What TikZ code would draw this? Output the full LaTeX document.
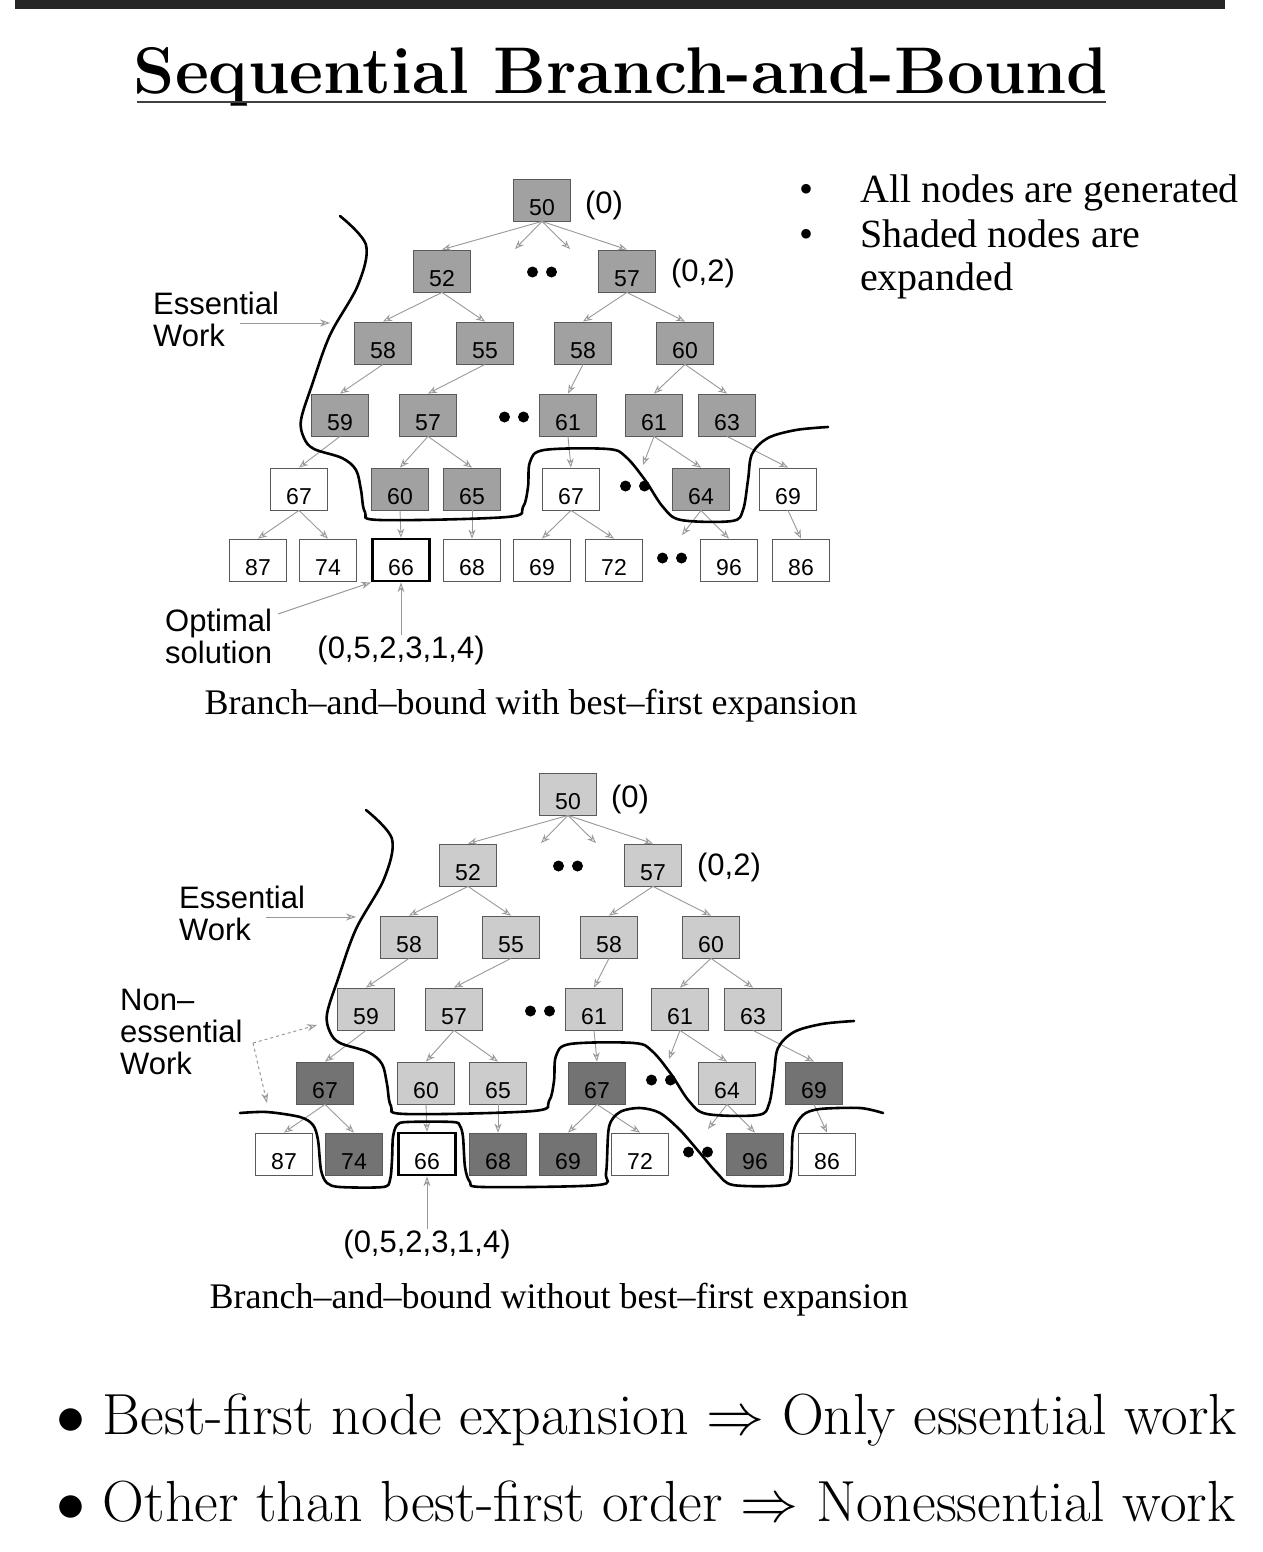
\RequirePackage{fix-cm}
\documentclass[tikz,border=0pt]{standalone}
\usepackage{fontspec}
\newfontfamily\treefont{Liberation Sans}
\newfontfamily\serfont{Liberation Serif}
\usepackage{tikz}
\usetikzlibrary{arrows.meta, positioning}

\definecolor{boxline}{gray}{0.35}
\definecolor{edgegray}{gray}{0.6}
\definecolor{midshade}{gray}{0.63}
\definecolor{lightshade}{gray}{0.8}
\definecolor{darkshade}{gray}{0.45}

\newcommand{\twodots}[1]{\fill[black] (#1) ++(-9.5,0) circle (5.5pt) ++(19,0) circle (5.5pt);}

\newcommand{\bbtree}{%
  % levels 0 to 2
  \node[expd] (r) at (542,200) {50};
  \node[lbl, anchor=west] (rlab) at ([xshift=14pt,yshift=-5pt]r.east) {(0)};
  \node[expd] (a) at (442,271) {52};
  \node[expd] (b) at (627,271) {57};
  \node[lbl, anchor=west] (blab) at ([xshift=15pt,yshift=-2pt]b.east) {(0,2)};
  \twodots{542,272}
  \node[expd] (aa) at (383,343) {58};
  \node[expd] (ab) at (485,343) {55};
  \node[expd] (ba) at (583,343) {58};
  \node[expd] (bb) at (685,343) {60};
  % level 3
  \node[expd] (aaa) at (340,415) {59};
  \node[expd] (aba) at (428,415) {57};
  \node[expd] (baa) at (568,415) {61};
  \node[expd] (bba) at (654,415) {61};
  \node[expd] (bbb) at (727,415) {63};
  \twodots{514,417}
  % level 4
  \node[xtra] (aaaa) at (299,489) {67};
  \node[expd] (abaa) at (400,489) {60};
  \node[expd] (abab) at (472,489) {65};
  \node[xtra] (baaa) at (571,489) {67};
  \node[expd] (bbab) at (701,489) {64};
  \node[xtra] (bbba) at (788,489) {69};
  \twodots{635,486}
  % level 5
  \node[gen] (l1) at (258,560) {87};
  \node[xtra] (l2) at (328,560) {74};
  \node[opt] (opt) at (401,560) {66};
  \node[xtra] (l4) at (472,560) {68};
  \node[xtra] (l5) at (542,560) {69};
  \node[gen] (l6) at (614,560) {72};
  \node[xtra] (l7) at (729,560) {96};
  \node[gen] (l8) at (801,560) {86};
  \twodots{672,558}
  % edges
  \foreach \p/\c in {r/a, r/b, a/aa, a/ab, b/ba, b/bb, aa/aaa, ab/aba, ba/baa, bb/bba, bb/bbb,
      aaa/aaaa, aba/abaa, aba/abab, baa/baaa, bba/bbab, bbb/bbba,
      aaaa/l1, aaaa/l2, abaa/opt, abab/l4, baaa/l5, baaa/l6, bbab/l7, bbba/l8}
    \draw[edge] (\p.south) -- (\c.north);
  \coordinate (s1) at (515,249);
  \coordinate (s2) at (570,249);
  \coordinate (s3) at (643,465);
  \coordinate (s4) at (682,535);
  \foreach \p/\c in {r/s1, r/s2, bba/s3, bbab/s4}
    \draw[edge] (\p.south) -- (\c);
  % essential work boundary
  \draw[bound] plot[smooth, tension=0.55] coordinates {(340,216) (366,245) (358,285) (330,335)
      (312,385) (301,420) (304,438) (314,449) (342,458) (356,470) (361,490) (365,512) (380,520)
      (507,517) (523,507) (528,487) (530,462) (544,450) (608,449) (626,457) (645,480) (663,507)
      (681,520) (732,521) (743,510) (748,480) (752,454) (768,438) (796,430) (828,427)};
  % labels
  \node[lbl, anchor=west] (ew) at (153,319) {Essential\\Work};
  \coordinate (ewfrom) at (240,323);
  \coordinate (ewto) at (330,323);
  \draw[pointer] (ewfrom) -- (ewto);
  \node[lbl] (sol) at (401,650) {(0,5,2,3,1,4)};
  \draw[pointer] (sol.north) -- (opt.south);
}

\begin{document}
\begin{tikzpicture}[x=1pt, y=-1pt,
    box/.style={draw=boxline, line width=0.8pt, minimum width=57pt, minimum height=42pt,
      inner sep=2pt, text height=30pt, text depth=0pt, font=\treefont\fontsize{23}{23}\selectfont},
    gen/.style={box, fill=white},
    opt/.style={box, fill=white, draw=black, line width=2.6pt},
    edge/.style={draw=edgegray, line width=0.9pt, -{Stealth[open, length=9pt, width=7pt]}},
    bound/.style={draw=black, line width=2.6pt, line cap=round},
    lbl/.style={font=\treefont\fontsize{31}{32}\selectfont, align=left, inner sep=0pt},
    pointer/.style={draw=edgegray, line width=1pt, -{Stealth[open, length=10pt, width=7pt]}},
    figcap/.style={font=\serfont\fontsize{36}{36}\selectfont, inner sep=0pt},
    note/.style={font=\serfont\fontsize{40}{43}\selectfont, inner sep=0pt},
  ]
  \useasboundingbox (0,0) rectangle (1262,1552);
  \fill[white] (0,0) rectangle (1262,1552);

  % heading
  \fill[black!85] (15,0) rectangle (1225,9);
  \node[anchor=base, font=\bfseries\fontsize{66}{66}\selectfont, inner sep=0pt] (title) at (621,94) {Sequential Branch-and-Bound};
  \draw[black!75, line width=2pt] (137,102) -- (1106,102);

  % notes on the right
  \node[note, anchor=base west] (n1) at (860,202) {All nodes are generated};
  \node[note, anchor=base west, align=left] (n2) at (860,290) {Shaded nodes are\\expanded};
  \node[note, anchor=base] (b1) at (806,202) {•};
  \node[note, anchor=base] (b2) at (806,247) {•};

  % best-first tree
  \begin{scope}[name prefix=t-, expd/.style={box, fill=midshade}, xtra/.style={box, fill=white}]
    \bbtree
    \node[lbl, anchor=west] (os) at (165,636) {Optimal\\solution};
    \coordinate (osfrom) at (278,614);
    \draw[pointer] (osfrom) -- (opt.south west);
  \end{scope}
  \node[figcap] (cap1) at (531,706) {Branch–and–bound with best–first expansion};

  % tree without best-first order
  \begin{scope}[shift={(26,594)}, name prefix=b-, expd/.style={box, fill=lightshade}, xtra/.style={box, fill=darkshade}]
    \bbtree
  \end{scope}
  \draw[bound] plot[smooth, tension=0.5] coordinates {(240,1113) (267,1112) (300,1117) (313,1125)
      (318,1140) (321,1170) (327,1183) (340,1187) (383,1187) (390,1180) (392,1160) (393,1137)
      (397,1125) (407,1122) (453,1122) (460,1126) (463,1137) (465,1167) (470,1182) (483,1187)
      (598,1185) (606,1173) (609,1127) (620,1112) (640,1108) (660,1113) (680,1130) (700,1153)
      (717,1173) (733,1185) (783,1185) (791,1173) (793,1133) (803,1115) (820,1109) (860,1108) (883,1113)};
  \node[lbl, anchor=west] (nw) at (120,1032) {Non–\\essential\\Work};
  \coordinate (nwfrom) at (253,1043);
  \coordinate (nwto1) at (317,1025);
  \coordinate (nwto2) at (267,1103);
  \draw[pointer, dashed] (nwfrom) -- (nwto1);
  \draw[pointer, dashed] (nwfrom) -- (nwto2);
  \node[figcap] (cap2) at (559,1300) {Branch–and–bound without best–first expansion};

  % conclusions
  \node[anchor=base west, font=\fontsize{58}{58}\selectfont, inner sep=0pt] (c1) at (56,1434) {$\bullet$ Best-first node expansion $\Rightarrow$ Only essential work};
  \node[anchor=base west, font=\fontsize{58}{58}\selectfont, inner sep=0pt] (c2) at (56,1521) {$\bullet$ Other than best-first order $\Rightarrow$ Nonessential work};
\end{tikzpicture}
\end{document}
